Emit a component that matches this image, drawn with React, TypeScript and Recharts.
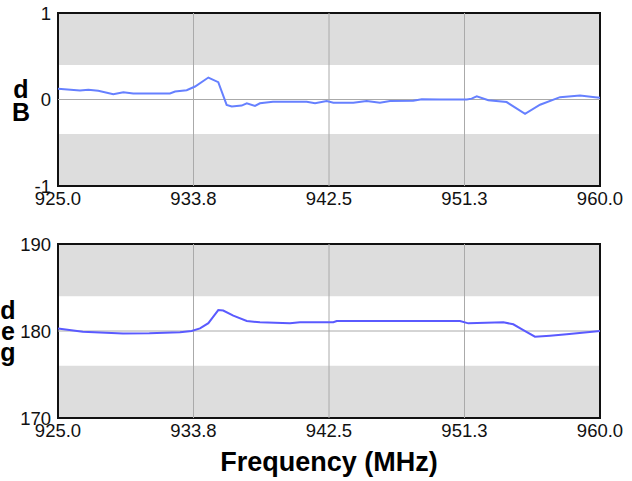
import React from "react";
import {
  LineChart,
  Line,
  XAxis,
  YAxis,
  ReferenceArea,
  ReferenceLine,
  Label,
} from "recharts";

const freqTicks = [925, 933.75, 942.5, 951.25, 960];

const magFreq = [925.0, 926.42, 926.96, 927.6, 928.57, 929.22, 929.86, 932.23, 932.56, 933.31, 933.85, 934.71, 935.35, 935.89, 936.22, 936.86, 937.19, 937.72, 938.04, 938.88, 941.06, 941.6, 942.35, 942.78, 944.07, 944.93, 945.79, 946.44, 947.94, 948.49, 949.67, 951.4, 951.71, 952.04, 952.79, 953.97, 955.16, 956.13, 957.42, 958.71, 959.68, 960.0];
const magDb = [0.124, 0.104, 0.112, 0.1, 0.061, 0.085, 0.069, 0.069, 0.092, 0.108, 0.15, 0.254, 0.2, -0.062, -0.081, -0.07, -0.044, -0.075, -0.044, -0.025, -0.025, -0.044, -0.017, -0.037, -0.037, -0.017, -0.037, -0.017, -0.014, 0.002, 0.0, 0.0, 0.01, 0.037, -0.008, -0.03, -0.165, -0.06, 0.027, 0.046, 0.027, 0.02];

const phaseFreq = [925.0, 926.6, 929.2, 930.9, 932.88, 933.63, 934.17, 934.71, 935.03, 935.35, 935.67, 936.32, 937.19, 938.04, 939.98, 940.62, 942.78, 943.0, 950.96, 951.5, 953.76, 954.4, 955.05, 955.8, 956.77, 957.85, 960.0];
const phaseDeg = [180.3, 179.92, 179.7, 179.73, 179.85, 180.0, 180.3, 180.9, 181.65, 182.4, 182.35, 181.76, 181.15, 181.0, 180.88, 181.0, 181.0, 181.15, 181.15, 180.88, 181.0, 180.77, 180.1, 179.35, 179.46, 179.62, 180.0];

const magData = magFreq.map((f, i) => ({ f, v: magDb[i] }));
const phaseData = phaseFreq.map((f, i) => ({ f, v: phaseDeg[i] }));

const font = "Arial, 'Liberation Sans', sans-serif";

const StackLabel = (letters: string[], dx: number, dy: number, gap: number) =>
  function Stack(props: any) {
    const vb = props.viewBox || { x: 0, y: 0, height: 0 };
    const cy = vb.y + vb.height / 2;
    return (
      <text
        x={vb.x + dx}
        y={cy + dy}
        textAnchor="middle"
        fontFamily={font}
        fontWeight="bold"
        fontSize={25}
        fill="#000"
      >
        {letters.map((l, i) => (
          <tspan key={i} x={vb.x + dx} dy={i === 0 ? 0 : gap}>
            {l}
          </tspan>
        ))}
      </text>
    );
  };

type PanelProps = {
  data: { f: number; v: number }[];
  height: number;
  top: number;
  xHeight: number;
  domain: [number, number];
  ticks: number[];
  band: number;
  center: number;
  color: string;
  label: any;
  xLabel?: boolean;
};

function Panel(p: PanelProps) {
  const [lo, hi] = p.domain;
  return (
    <LineChart
      width={632}
      height={p.height}
      data={p.data}
      margin={{ top: p.top, right: 32, left: 0, bottom: 0 }}
    >
      <XAxis
        dataKey="f"
        type="number"
        domain={[925, 960]}
        ticks={freqTicks}
        tickFormatter={(v: number) => v.toFixed(1)}
        tickLine={false}
        axisLine={false}
        tickSize={0}
        tickMargin={6}
        height={p.xHeight}
        interval={0}
        tick={{ fill: "#111", fontSize: 18.5, fontFamily: font }}
      >
        {p.xLabel && (
          <Label
            value="Frequency (MHz)"
            position="insideBottom"
            offset={10}
            style={{ fill: "#000", fontSize: 27, fontWeight: "bold", fontFamily: font }}
          />
        )}
      </XAxis>
      <YAxis
        dataKey="v"
        type="number"
        domain={p.domain}
        ticks={p.ticks}
        width={58}
        tickLine={false}
        axisLine={false}
        tickSize={0}
        tickMargin={7}
        interval={0}
        tick={{ fill: "#111", fontSize: 18.5, fontFamily: font }}
      >
        <Label content={p.label} />
      </YAxis>
      <ReferenceArea x1={925} x2={960} y1={p.center + p.band} y2={hi} fill="#dddddd" fillOpacity={1} stroke="none" />
      <ReferenceArea x1={925} x2={960} y1={lo} y2={p.center - p.band} fill="#dddddd" fillOpacity={1} stroke="none" />
      {freqTicks.slice(1, -1).map((t) => (
        <ReferenceLine key={t} x={t} stroke="#aaaaaa" strokeWidth={1} />
      ))}
      <ReferenceLine y={p.center} stroke="#aaaaaa" strokeWidth={1} />
      <Line
        dataKey="v"
        type="linear"
        stroke={p.color}
        strokeWidth={2}
        dot={false}
        isAnimationActive={false}
      />
      <ReferenceArea x1={925} x2={960} y1={lo} y2={hi} fill="none" stroke="#111" strokeWidth={2} />
    </LineChart>
  );
}

export default function App() {
  return (
    <div style={{ position: "absolute", left: 0, top: 0, width: 632, height: 481, background: "#fff" }}>
      <Panel
        data={magData}
        height={210}
        top={13}
        xHeight={24}
        domain={[-1, 1]}
        ticks={[-1, 0, 1]}
        band={0.4}
        center={0}
        color="#6680ff"
        label={StackLabel(["d", "B"], 21, -2, 23)}
      />
      <Panel
        data={phaseData}
        height={271}
        top={34}
        xHeight={63}
        domain={[170, 190]}
        ticks={[170, 180, 190]}
        band={4}
        center={180}
        color="#5a5aff"
        label={StackLabel(["d", "e", "g"], 8, -12, 21)}
        xLabel
      />
    </div>
  );
}
